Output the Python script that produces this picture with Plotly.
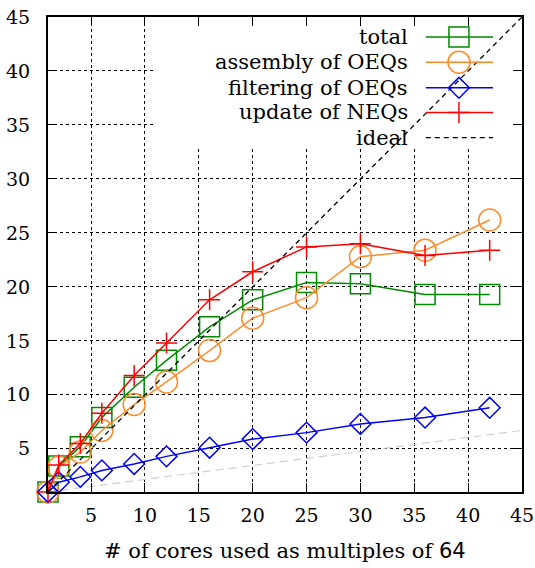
import plotly.graph_objects as go

# ---- data ----
cores = [1, 2, 4, 6, 9, 12, 16, 20, 25, 30, 36, 42]
total = [1, 3.4, 5.2, 7.9, 10.7, 13.2, 16.3, 18.8, 20.4, 20.3, 19.3, 19.3]
assembly = [1, 3.3, 4.7, 6.7, 9.1, 11.2, 14.1, 17.1, 19.0, 22.8, 23.4, 26.2]
filtering = [1, 1.9, 2.4, 3.0, 3.6, 4.3, 5.1, 5.9, 6.5, 7.3, 7.9, 8.8]
update = [1, 3.5, 5.5, 8.3, 11.8, 14.8, 18.8, 21.4, 23.7, 24.0, 22.9, 23.4]
ideal_x = [1, 45]
ideal_y = [1, 45]
ref_x = [1, 45]
ref_y = [1, 6.7]
tick_vals = [5, 10, 15, 20, 25, 30, 35, 40, 45]
legend_names = ["total", "assembly of OEQs", "filtering of OEQs", "update of NEQs", "ideal"]

FONT = "DejaVu Serif"
GREEN, ORANGE, BLUE, RED = "#008a00", "#ff8a2a", "#0000ff", "#ff0000"

styles = [
    dict(color=GREEN, symbol="square-open", size=20),
    dict(color=ORANGE, symbol="circle-open", size=22),
    dict(color=BLUE, symbol="diamond-open", size=16),
    dict(color=RED, symbol="cross-thin-open", size=15),
]
series = [total, assembly, filtering, update]

fig = go.Figure()

# light gray reference line
fig.add_trace(go.Scatter(x=ref_x, y=ref_y, mode="lines",
                         line=dict(color="#d0d0d0", width=1.2, dash="8px,5px"),
                         showlegend=False, hoverinfo="skip"))

for ys, st in zip(series, styles):
    fig.add_trace(go.Scatter(
        x=cores, y=ys, mode="lines+markers",
        line=dict(color=st["color"], width=1.5),
        marker=dict(symbol=st["symbol"], size=st["size"], color=st["color"],
                    line=dict(color=st["color"], width=1.5)),
        cliponaxis=False, showlegend=False))

fig.add_trace(go.Scatter(x=ideal_x, y=ideal_y, mode="lines",
                         line=dict(color="black", width=1.3, dash="5px,4px"),
                         showlegend=False))

# ---- custom key (text right-aligned, sample on the right), placed in the plot frame ----
def fx(f):
    return 1 + 44 * f

rows_f = [0.958, 0.905, 0.851, 0.799, 0.746]
lx0, lx1, lxm, ltext = 0.797, 0.939, 0.867, 0.764
for i, st in enumerate(styles):
    fig.add_trace(go.Scatter(x=[fx(lx0), fx(lx1)], y=[fx(rows_f[i])] * 2,
                             mode="lines", line=dict(color=st["color"], width=1.5),
                             showlegend=False, hoverinfo="skip"))
    fig.add_trace(go.Scatter(x=[fx(lxm)], y=[fx(rows_f[i])], mode="markers",
                             marker=dict(symbol=st["symbol"], size=st["size"], color=st["color"],
                                         line=dict(color=st["color"], width=1.5)),
                             showlegend=False, hoverinfo="skip"))
fig.add_trace(go.Scatter(x=[fx(lx0), fx(lx1)], y=[fx(rows_f[4])] * 2,
                         mode="lines", line=dict(color="black", width=1.3, dash="5px,4px"),
                         showlegend=False, hoverinfo="skip"))

annotations = []
for name, yy in zip(legend_names, rows_f):
    annotations.append(dict(x=ltext, y=yy, xref="paper", yref="paper", text=name,
                            showarrow=False, xanchor="right", yanchor="middle",
                            font=dict(family=FONT, size=21, color="black")))
annotations.append(dict(x=0.5, y=-0.124, xref="paper", yref="paper",
                        text="# of cores used as multiples of <span style=\"font-family:'DejaVu Sans'\">64</span>",
                        showarrow=False, xanchor="center", yanchor="middle",
                        font=dict(family=FONT, size=21, color="black")))

# opaque key box: above the grid, below the data
shapes = [dict(type="rect", xref="x", yref="y", x0=10.9, x1=45, y0=32.85, y1=45,
               fillcolor="white", line=dict(width=0), layer="between")]

axis_common = dict(
    showline=True, linecolor="black", linewidth=2, mirror="allticks",
    ticks="inside", ticklen=9, tickwidth=1, tickcolor="black",
    showgrid=True, gridcolor="black", gridwidth=1, griddash="dot",
    zeroline=False, tickvals=tick_vals, automargin=False,
    tickfont=dict(family=FONT, size=19, color="black"),
)

fig.update_layout(
    width=535, height=568,
    margin=dict(l=48, r=13, t=17, b=76),
    paper_bgcolor="white", plot_bgcolor="white",
    xaxis=dict(range=[1, 45], ticklabelstandoff=5, **axis_common),
    yaxis=dict(range=[1, 45], ticklabelstandoff=12, **axis_common),
    annotations=annotations,
    shapes=shapes,
    showlegend=False,
)

fig.write_html("out.html")
